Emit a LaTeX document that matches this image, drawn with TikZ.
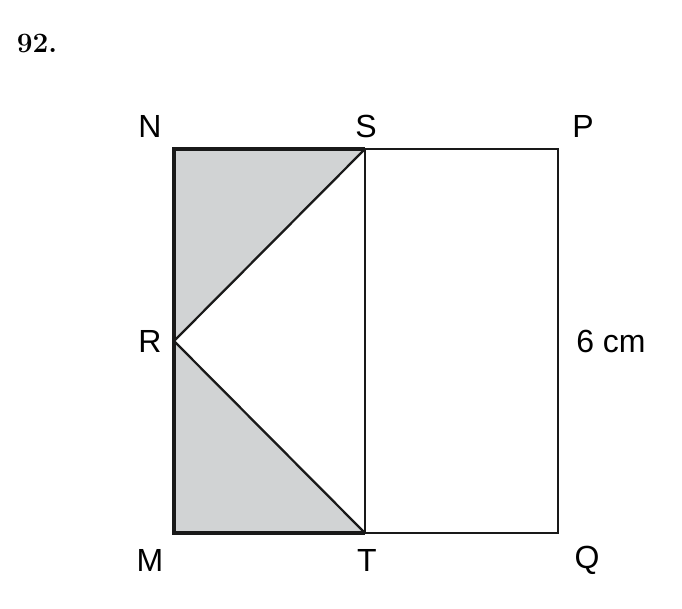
\documentclass[tikz,border=0pt]{standalone}
\usepackage{fontspec}
\setsansfont{Liberation Sans}
\usetikzlibrary{positioning}
\definecolor{shadegray}{HTML}{D1D3D4}
\tikzset{
    vlabel/.style={font=\sffamily\fontsize{24}{28}\selectfont, inner sep=0pt},
    thinedge/.style={line width=1.7pt, black!90},
    thickedge/.style={line width=2.7pt, black!90}
}

\begin{document}
\begin{tikzpicture}[x=0.75pt, y=-0.75pt]

% Frame with the reference's margins
\useasboundingbox (0,0) rectangle (682,608);

% Vertices
\coordinate (N) at (174,149);
\coordinate (S) at (365,149);
\coordinate (P) at (558,149);
\coordinate (R) at (174,341);
\coordinate (M) at (174,533);
\coordinate (T) at (365,533);
\coordinate (Q) at (558,533);

% Shaded triangles
\fill[shadegray] (N) -- (S) -- (R) -- cycle;
\fill[shadegray] (R) -- (T) -- (M) -- cycle;

% Right part of the square
\draw[thinedge] (S) -- (P) -- (Q) -- (T);
\draw[thinedge] (S) -- (T);
\draw[thinedge] (S) -- (R) -- (T);

% Left rectangle border
\draw[thickedge, line join=miter] (S) -- (N) -- (M) -- (T);

% Problem number
\node[font=\bfseries\fontsize{21}{24}\selectfont, inner sep=0pt] (num) at (37,43) {92.};

% Vertex labels
\node[vlabel] (lN) at (150,126) {N};
\node[vlabel] (lS) at (366,126) {S};
\node[vlabel] (lP) at (583,126) {P};
\node[vlabel] (lR) at (150,341) {R};
\node[vlabel] (lM) at (150,560) {M};
\node[vlabel] (lT) at (367,560) {T};
\node[vlabel] (lQ) at (587,560) {Q};

% Side length
\node[vlabel] (side) at (611,341) {6 cm};

\end{tikzpicture}
\end{document}
